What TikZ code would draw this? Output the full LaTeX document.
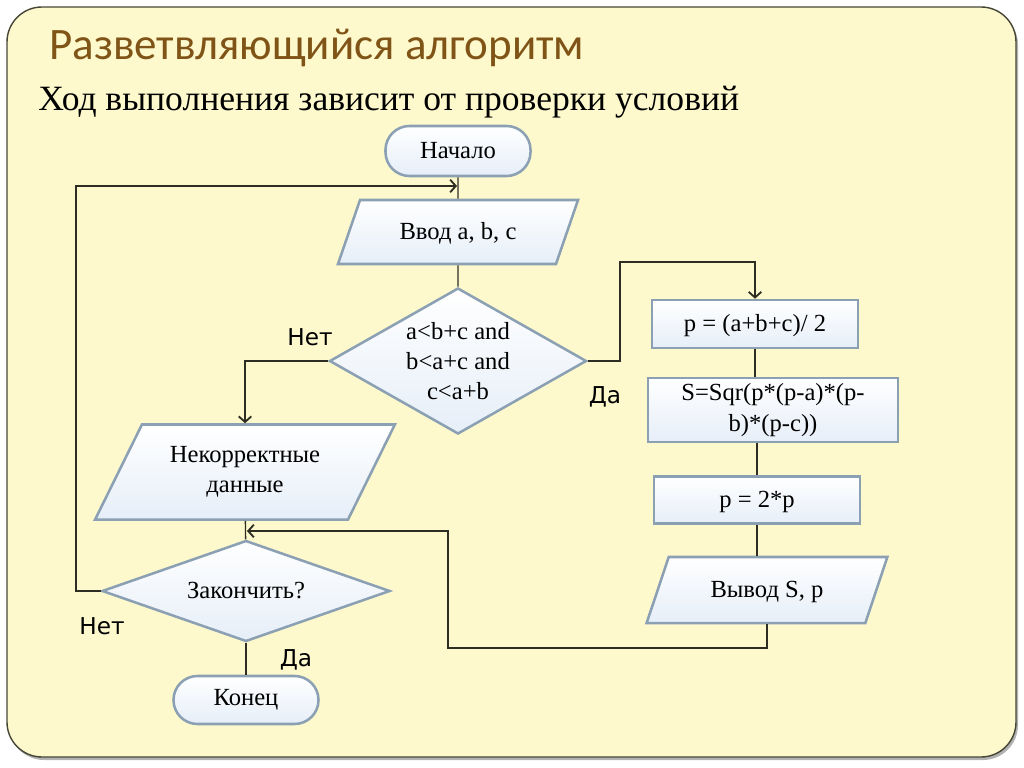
\documentclass[tikz,border=0pt]{standalone}
\usepackage{fontspec}
\setmainfont{Liberation Serif}
\newfontfamily\titlefont{Carlito}
\newfontfamily\labelfont{DejaVu Sans}
\usepackage{tikz}
\usetikzlibrary{shapes.geometric}
\usetikzlibrary{arrows.meta}
\usetikzlibrary{positioning}
\usetikzlibrary{calc}
\definecolor{slide}{RGB}{253,249,205}
\definecolor{framecol}{RGB}{70,70,55}
\definecolor{titlebrown}{RGB}{128,84,22}
\definecolor{boxline}{RGB}{140,160,180}
\definecolor{boxfill}{RGB}{230,238,248}
\definecolor{wirecol}{RGB}{45,45,35}
\tikzset{
    block/.style={draw=boxline, line width=1.8pt, top color=white, bottom color=boxfill,
        inner sep=2pt, align=center, font=\fontsize{17.5}{21.5}\selectfont},
    terminal/.style={block, rectangle, rounded corners=0.6cm, minimum width=3.625cm, minimum height=1.25cm},
    process/.style={block, rectangle, minimum height=1.2cm},
    io/.style={block, trapezium, trapezium stretches=true},
    decision/.style={block, diamond, inner sep=0pt},
    oneline/.style={text height=1em, text depth=0pt},
    wire/.style={draw=wirecol, line width=1pt},
    arr/.style={wire, -{Straight Barb[length=4pt,width=9pt,line width=1.3pt]}},
    lbl/.style={font=\labelfont\fontsize{16.5}{20}\selectfont},
}

\begin{document}
\begin{tikzpicture}[x=0.025cm,y=-0.025cm]
\useasboundingbox (0,0) rectangle (1024,768);

% slide
\fill [black!30, rounded corners=0.875cm] (9,10) rectangle (1018,760);
\filldraw [fill=slide, draw=framecol, line width=1pt, rounded corners=0.875cm] (7,7) rectangle (1016,757);

\node [anchor=base west, inner sep=0, text=titlebrown, font=\titlefont\fontsize{32}{36}\selectfont] (title) at (49,60) {Разветвляющийся алгоритм};
\node [anchor=base west, inner sep=0, font=\fontsize{25.3}{30}\selectfont] (sub) at (38,111) {Ход выполнения зависит от проверки условий};

% left column
\node [terminal] (nach) at (458,151) {Начало};
\node [io, oneline, trapezium left angle=55, trapezium right angle=125, minimum width=6cm, minimum height=1.6cm] (vvod) at (458,232) {Ввод a, b, c};
\node [decision, aspect=1.76, minimum width=6.425cm, minimum height=3.65cm] (cond) at (458,361) {a<b+c and\\b<a+c and\\c<a+b};
\node [io, trapezium left angle=58, trapezium right angle=122, minimum width=7.5cm, minimum height=2.375cm] (neto) at (245,472) {Некорректные\\данные};
\node [decision, aspect=2.85, minimum width=7.2cm, minimum height=2.525cm] (zak) at (246,591) {Закончить?};
\node [terminal, minimum height=1.2cm] (kon) at (246,700) {Конец};

% right column
\node [process, oneline, minimum width=5.15cm] (p1) at (755,324) {p = (a+b+c)/ 2};
\node [process, minimum width=6.25cm, minimum height=1.6cm] (sq) at (773,410) {S=Sqr(p*(p-a)*(p-\\b)*(p-c))};
\node [process, oneline, minimum width=5.15cm, minimum height=1.175cm] (p2) at (757,500) {p = 2*p};
\node [io, oneline, trapezium left angle=56, trapezium right angle=124, minimum width=6.025cm, minimum height=1.65cm] (vyv) at (767,590) {Вывод S, p};

\coordinate (yesup) at (620,262);
\coordinate (loopl) at (76,186);
\coordinate (topin) at (457,186);
\coordinate (backr) at (448,648);
\coordinate (backin) at (247,531);

\draw [wire] (nach) -- (vvod);
\draw [wire] (vvod) -- (cond);
\draw [arr] (cond.east) -| (yesup) -| (p1.north);
\draw [arr] (cond.west) -| (neto.north);
\draw [wire] (neto) -- (zak);
\draw [wire] (zak) -- (kon);
\draw [wire] (p1.south) -- (p1.south |- sq.north);
\draw [wire] (p2.north |- sq.south) -- (p2.north);
\draw [wire] (p2.south) -- (p2.south |- vyv.north);
\draw [arr] (vyv.south) |- (backr) |- (backin);
\draw [arr] (zak.west) -| (loopl) -- (topin);

\node [lbl] (no1) at (310,337) {Нет};
\node [lbl] (yes1) at (605,397) {Да};
\node [lbl] (no2) at (102,626) {Нет};
\node [lbl] (yes2) at (296,660) {Да};

\end{tikzpicture}
\end{document}
